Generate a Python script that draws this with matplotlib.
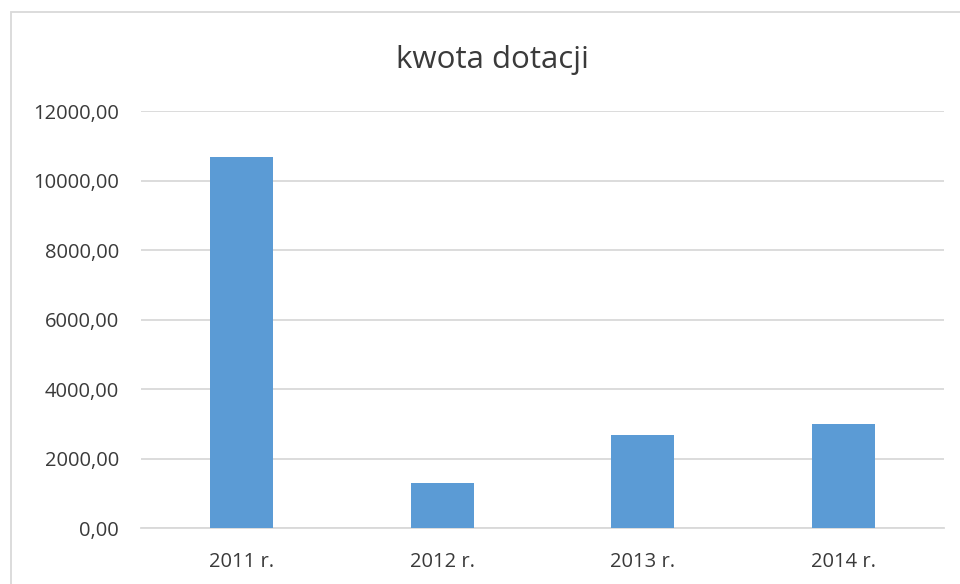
import matplotlib
matplotlib.use("Agg")
import matplotlib.pyplot as plt
from matplotlib.patches import Rectangle

categories = ["2011 r.", "2012 r.", "2013 r.", "2014 r."]
values = [10670, 1300, 2685, 2990]
yticks = [0, 2000, 4000, 6000, 8000, 10000, 12000]
ytick_labels = ["0,00", "2000,00", "4000,00", "6000,00", "8000,00", "10000,00", "12000,00"]
title = "kwota dotacji"

plt.rcParams['font.family'] = ['Open Sans', 'DejaVu Sans']
text_color = "#3a3a3a"
grid_color = "#d9d9d9"
bar_color = "#5b9bd5"

W, H = 960, 584
fig = plt.figure(figsize=(W / 100, H / 100), dpi=100)
fig.patch.set_facecolor("white")

# outer chart border
fig.patches.append(Rectangle((11 / W, -0.1), 1.2, (H - 12) / H + 0.1,
                             transform=fig.transFigure, fill=False,
                             edgecolor=grid_color, linewidth=1.3))

left, right = 141.25 / W, 943.6 / W
bottom, top = (H - 528.3) / H, (H - 111) / H
ax = fig.add_axes([left, bottom, right - left, top - bottom])

x = list(range(len(categories)))
ax.bar(x, values, width=0.314, color=bar_color, zorder=3)
ax.set_xlim(-0.5, len(categories) - 0.5)
ax.set_ylim(0, 12000)
ax.set_yticks(yticks)
ax.set_yticklabels(ytick_labels)
ax.set_xticks(x)
ax.set_xticklabels(categories)
ax.yaxis.grid(True, color=grid_color, linewidth=1.3, zorder=0)
ax.set_axisbelow(True)
for s in ["left", "right", "top"]:
    ax.spines[s].set_visible(False)
ax.spines["bottom"].set_color(grid_color)
ax.spines["bottom"].set_linewidth(1.3)
ax.tick_params(axis="both", length=0, labelsize=14.5, colors=text_color)
ax.tick_params(axis="y", pad=16)
ax.tick_params(axis="x", pad=17)

fig.text(492 / W, (H - 60) / H, title, ha="center", va="center",
         fontsize=22.5, color=text_color)

fig.savefig("out.png", dpi=100)
